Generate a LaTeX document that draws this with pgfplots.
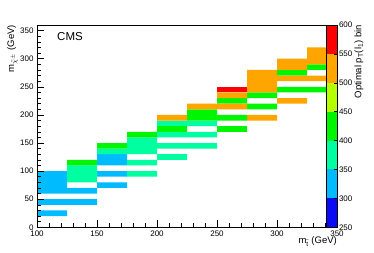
\documentclass[border=0pt]{standalone}
\usepackage{pgfplots}
\pgfplotsset{compat=1.18}
\usepackage{fontspec}
\setmainfont{Liberation Sans}
\definecolor{cDB}{RGB}{10,10,245}
\definecolor{cLB}{RGB}{0,188,255}
\definecolor{cAQ}{RGB}{0,255,160}
\definecolor{cGR}{RGB}{0,245,0}
\definecolor{cYG}{RGB}{180,255,0}
\definecolor{cOR}{RGB}{255,165,0}
\definecolor{cRD}{RGB}{255,0,0}
\pgfplotsset{binfill/.style={fill=#1, draw=none, unbounded coords=jump, mark=none, forget plot}}
\begin{document}
\begin{tikzpicture}
\useasboundingbox (-37pt,-25.7pt) rectangle (337pt,227.3pt);
\begin{axis}[
  at={(0pt,0pt)}, anchor=south west,
  scale only axis, width=300pt, height=202.3pt,
  xmin=100, xmax=350, ymin=0, ymax=360,
  xtick={100,150,...,350}, ytick={0,50,...,350},
  minor x tick num=4, minor y tick num=4,
  tick pos=left, tick align=inside,
  major tick length=7pt, minor tick length=4pt,
  axis on top,
  axis line style={line width=0.6pt},
  every tick/.style={line width=0.5pt, black},
  ticklabel style={font=\fontsize{8}{9}\selectfont},
  /pgf/number format/assume math mode=true,
  xlabel={m$_{\tilde{\mathrm{t}}}$ (GeV)},
  xlabel style={at={(axis description cs:1,0)}, anchor=north east, inner sep=0pt, yshift=-9pt, font=\fontsize{9.5}{11}\selectfont},
  ylabel={m$_{\tilde{\chi}^{\pm}}$ (GeV)},
  ylabel style={at={(axis description cs:-0.082,1)}, anchor=east, inner sep=0pt, font=\fontsize{9.5}{11}\selectfont},
]
\addplot[binfill=cLB] coordinates {
(100,20)(125,20)(125,30)(100,30)(nan,nan)
(100,40)(150,40)(150,50)(100,50)(nan,nan)
(100,60)(150,60)(150,70)(100,70)(nan,nan)
(100,70)(125,70)(125,100)(100,100)(nan,nan)
(150,70)(175,70)(175,80)(150,80)(nan,nan)
(150,90)(175,90)(175,100)(150,100)(nan,nan)
(150,110)(175,110)(175,130)(150,130)};
\addplot[binfill=cAQ] coordinates {
(125,80)(150,80)(150,110)(125,110)(nan,nan)
(150,130)(175,130)(175,140)(150,140)(nan,nan)
(175,90)(200,90)(200,100)(175,100)(nan,nan)
(175,110)(200,110)(200,120)(175,120)(nan,nan)
(175,130)(200,130)(200,160)(175,160)(nan,nan)
(200,120)(225,120)(225,130)(200,130)(nan,nan)
(200,140)(250,140)(250,150)(200,150)(nan,nan)
(200,160)(250,160)(250,170)(200,170)(nan,nan)
(200,180)(250,180)(250,190)(200,190)};
\addplot[binfill=cGR] coordinates {
(125,110)(150,110)(150,120)(125,120)(nan,nan)
(150,140)(175,140)(175,150)(150,150)(nan,nan)
(175,160)(200,160)(200,170)(175,170)(nan,nan)
(200,170)(225,170)(225,180)(200,180)(nan,nan)
(225,190)(250,190)(250,210)(225,210)(nan,nan)
(250,170)(275,170)(275,180)(250,180)(nan,nan)
(250,190)(275,190)(275,200)(250,200)(nan,nan)
(250,220)(275,220)(275,230)(250,230)(nan,nan)
(275,210)(300,210)(300,220)(275,220)(nan,nan)
(275,230)(300,230)(300,240)(275,240)(nan,nan)
(300,240)(350,240)(350,250)(300,250)(nan,nan)
(300,270)(325,270)(325,280)(300,280)(nan,nan)
(325,280)(350,280)(350,290)(325,290)};
\addplot[binfill=cOR] coordinates {
(200,190)(225,190)(225,200)(200,200)(nan,nan)
(225,210)(275,210)(275,220)(225,220)(nan,nan)
(250,230)(275,230)(275,240)(250,240)(nan,nan)
(275,190)(300,190)(300,200)(275,200)(nan,nan)
(275,240)(300,240)(300,280)(275,280)(nan,nan)
(300,260)(350,260)(350,270)(300,270)(nan,nan)
(300,220)(325,220)(325,230)(300,230)(nan,nan)
(300,280)(325,280)(325,290)(300,290)(nan,nan)
(300,290)(350,290)(350,300)(300,300)(nan,nan)
(325,300)(350,300)(350,320)(325,320)};
\addplot[binfill=cRD] coordinates {
(250,240)(275,240)(275,250)(250,250)};
\node[anchor=north west, inner sep=0pt, font=\fontsize{11.5}{13}\selectfont] at (axis description cs:0.0667,0.9654) {CMS};
\node[anchor=base east, inner sep=0pt, font=\fontsize{10}{12}\selectfont] at (axis description cs:0.98,1.026) {19.7 fb\textsuperscript{-1} (8 TeV)};
\end{axis}
\begin{axis}[
  at={(289pt,0pt)}, anchor=south west,
  scale only axis, width=11pt, height=202.3pt,
  xmin=0, xmax=1, ymin=250, ymax=600,
  xtick=\empty, ytick={250,300,...,600},
  ytick pos=right, yticklabel pos=right,
  tick align=inside, major tick length=3.5pt,
  every tick/.style={line width=0.5pt, black},
  axis on top,
  axis line style={line width=0.3pt},
  yticklabel style={font=\fontsize{8}{9}\selectfont, xshift=-1.5pt},
  /pgf/number format/assume math mode=true,
]
\addplot[binfill=cDB] coordinates {(0,250)(1,250)(1,300)(0,300)};
\addplot[binfill=cLB] coordinates {(0,300)(1,300)(1,350)(0,350)};
\addplot[binfill=cAQ] coordinates {(0,350)(1,350)(1,400)(0,400)};
\addplot[binfill=cGR] coordinates {(0,400)(1,400)(1,450)(0,450)};
\addplot[binfill=cYG] coordinates {(0,450)(1,450)(1,500)(0,500)};
\addplot[binfill=cOR] coordinates {(0,500)(1,500)(1,550)(0,550)};
\addplot[binfill=cRD] coordinates {(0,550)(1,550)(1,600)(0,600)};
\end{axis}
\node[rotate=90, anchor=east, inner sep=0pt, font=\fontsize{9.5}{11}\selectfont] at (322pt,202.3pt) {Optimal p\textsubscript{T}(l\textsubscript{1}) bin};
\end{tikzpicture}
\end{document}
